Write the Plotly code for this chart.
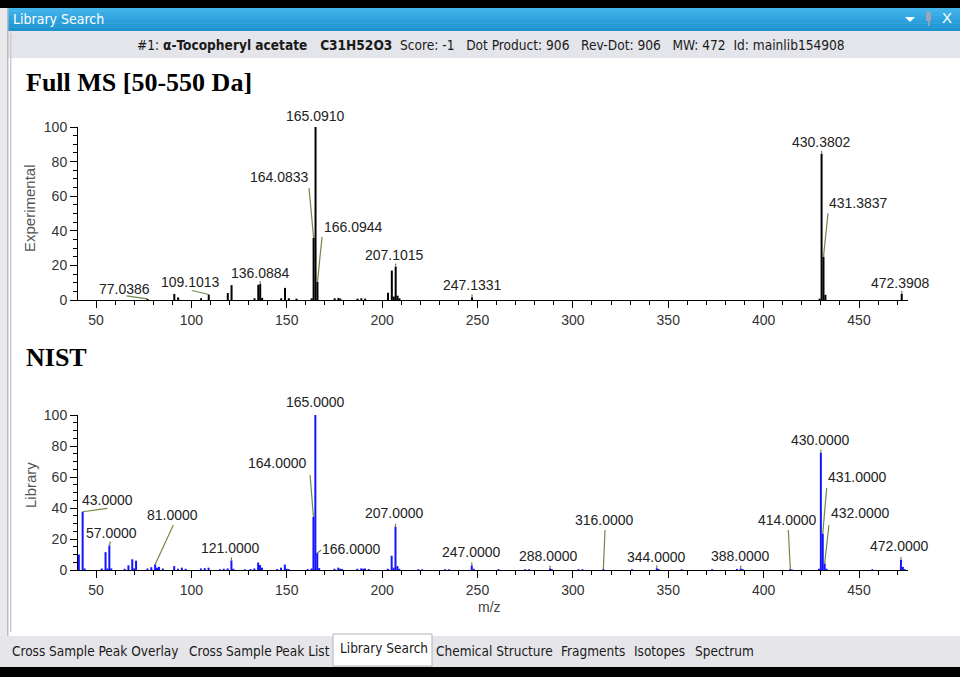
import plotly.graph_objects as go

W, H = 960, 677

# ---- Experimental spectrum (Full MS) ----
exp_mz = [77.0386, 91.05, 93.07, 105.07, 109.1013, 119.09, 121.0651, 133.10,
          135.08, 136.0884, 137.10, 147.10, 149.10, 151.10, 155.10, 163.08,
          164.0833, 165.0910, 166.0944, 175.10, 177.10, 178.10, 187.10, 189.10,
          191.10, 203.10, 205.09, 206.10, 207.1015, 208.10, 209.10, 247.1331,
          429.37, 430.3802, 431.3837, 432.39, 472.3908]
exp_int = [0.6, 3.5, 1.5, 1.0, 3.2, 4.0, 8.6, 1.0,
           8.8, 9.2, 1.2, 1.0, 7.0, 1.0, 0.8, 1.0,
           36.0, 100.0, 10.5, 1.0, 1.2, 0.8, 0.8, 1.0,
           0.8, 4.2, 17.0, 2.0, 19.3, 2.5, 1.0, 1.6,
           0.8, 84.5, 25.0, 3.0, 3.6]
exp_labels = [77.0386, 109.1013, 136.0884, 164.0833, 165.0910, 166.0944,
              207.1015, 247.1331, 430.3802, 431.3837, 472.3908]

# ---- NIST library spectrum ----
lib_mz = [41, 43, 44, 53, 55, 56, 57, 58, 65, 67, 69, 70, 71, 77, 79, 81, 82,
          83, 85, 91, 93, 95, 97, 105, 107, 109, 115, 117, 119, 121, 122, 128,
          131, 133, 135, 136, 137, 145, 147, 149, 150, 151, 161, 163, 164, 165,
          166, 167, 175, 177, 178, 179, 187, 189, 190, 191, 193, 203, 205, 206,
          207, 208, 209, 219, 221, 233, 235, 247, 248, 261, 275, 277, 288, 289,
          303, 305, 316, 331, 344, 345, 357, 373, 386, 388, 389, 414, 415, 429,
          430, 431, 432, 433, 457, 472, 473, 474]
lib_int = [10.0, 37.6, 1.0, 1.0, 11.5, 1.0, 15.8, 1.0, 0.8, 3.0, 6.9, 1.0, 6.0,
           1.0, 1.8, 3.6, 1.5, 2.0, 1.0, 2.5, 0.8, 1.5, 0.8, 1.0, 1.2, 1.5, 0.5,
           0.8, 1.0, 6.2, 0.8, 0.5, 0.6, 1.0, 4.8, 3.2, 1.5, 0.6, 1.5, 3.5, 0.8,
           0.6, 0.6, 1.0, 34.2, 100.0, 11.0, 1.2, 0.8, 1.5, 0.8, 0.6, 0.8, 1.0,
           0.8, 1.0, 0.6, 0.8, 9.2, 1.5, 28.0, 2.5, 0.8, 0.5, 0.5, 0.5, 0.5, 3.0,
           0.8, 0.5, 0.5, 0.5, 1.0, 0.5, 0.5, 0.5, 0.6, 0.5, 1.2, 0.6, 0.5, 0.5,
           0.6, 1.0, 0.6, 0.6, 0.3, 0.8, 75.7, 23.5, 4.2, 0.8, 0.5, 6.5, 2.0, 0.5]
lib_labels = [43.0, 57.0, 81.0, 121.0, 164.0, 165.0, 166.0, 207.0, 247.0,
              288.0, 316.0, 344.0, 388.0, 414.0, 430.0, 431.0, 432.0, 472.0]

x_ticks = [50, 100, 150, 200, 250, 300, 350, 400, 450]
y_ticks = [0, 20, 40, 60, 80, 100]

# label placement: (text offset px, leader-line end offset px), y down positive
EXP_LABEL_POS = {
    77.0386: ((-23, -10), (-21, -3)),
    109.1013: ((-18, -12.5), (-17, -4)),
    136.0884: ((0, -11), (0, -3)),
    164.0833: ((-34, -61), (-4.6, -49.6)),
    165.0910: ((0, -11), (0, -3)),
    166.0944: ((36, -55), (4.6, -45)),
    207.1015: ((-1, -11.6), (0, -3)),
    247.1331: ((0, -12), (0, -3)),
    430.3802: ((0, -12), (0, -3)),
    431.3837: ((35.5, -53.4), (4.5, -43.4)),
    472.3908: ((-1.6, -11), (0, -3)),
}
LIB_LABEL_POS = {
    43.0: ((25, -11.7), (24.7, -3.4)),
    57.0: ((2.3, -12.8), (1, -4)),
    81.0: ((17.4, -49.4), (18.2, -39.4)),
    121.0: ((-0.6, -12), (0, -3)),
    164.0: ((-36, -53.7), (-3.4, -42)),
    165.0: ((0, -13.3), (0, -3)),
    166.0: ((34, -3.7), (4, -3)),
    207.0: ((-1, -13.3), (0, -3)),
    247.0: ((0, -13.7), (0, -3)),
    288.0: ((-1, -12), (0, -3)),
    316.0: ((1.6, -49), (1.6, -39)),
    344.0: ((-0.6, -11.4), (0, -3)),
    388.0: ((0, -12), (0, -3)),
    414.0: ((-2.5, -49), (-2, -39)),
    430.0: ((0, -12.7), (0, -3)),
    431.0: ((35, -57), (3.9, -45.6)),
    432.0: ((35.8, -50.2), (4.3, -38.5)),
    472.0: ((-1, -14.3), (0, -3)),
}

SANS = "Liberation Sans, Arial, sans-serif"
NARROW = "Liberation Sans Narrow, DejaVu Sans Condensed, Roboto, sans-serif"
SERIF = "Liberation Serif, Times New Roman, serif"
LEADER = "#6f8a46"


def fx(px):
    return px / W


def fy(py):
    return 1 - py / H


def sticks(mz, inten):
    xs, ys = [], []
    for m, i in zip(mz, inten):
        xs += [m, m, None]
        ys += [0, i, None]
    return xs, ys


fig = go.Figure()
ex, ey = sticks(exp_mz, exp_int)
fig.add_trace(go.Scatter(x=ex, y=ey, mode="lines", line=dict(color="#000000", width=2),
                         xaxis="x", yaxis="y", hoverinfo="skip", showlegend=False))
lx, ly = sticks(lib_mz, lib_int)
fig.add_trace(go.Scatter(x=lx, y=ly, mode="lines", line=dict(color="#1414ff", width=2),
                         xaxis="x2", yaxis="y2", hoverinfo="skip", showlegend=False))

annotations = []
shapes = []


def add_labels(mz, inten, labels, pos, xr, yr):
    lookup = dict(zip(mz, inten))
    for m in labels:
        h = lookup[m]
        (tdx, tdy), (ldx, ldy) = pos[m]
        annotations.append(dict(x=m, y=h, xref=xr, yref=yr, text=f"{m:.4f}",
                                showarrow=False, xshift=tdx, yshift=-tdy,
                                xanchor="center", yanchor="middle",
                                font=dict(family=SANS, size=14, color="#222222")))
        shapes.append(dict(type="line", xref=xr, yref=yr, xsizemode="pixel",
                           ysizemode="pixel", xanchor=m, yanchor=h,
                           x0=0, y0=0, x1=ldx, y1=-ldy,
                           line=dict(color=LEADER, width=1.2)))


add_labels(exp_mz, exp_int, exp_labels, EXP_LABEL_POS, "x", "y")
add_labels(lib_mz, lib_int, lib_labels, LIB_LABEL_POS, "x2", "y2")


def rect(x0, y0, x1, y1, color, line=None, layer="below"):
    shapes.append(dict(type="rect", xref="paper", yref="paper",
                       x0=fx(x0), x1=fx(x1), y0=fy(y1), y1=fy(y0),
                       fillcolor=color, line=line or dict(width=0), layer=layer))


def text(x, y, s, size, color, family=NARROW, xanchor="left", angle=0, bold=False):
    annotations.append(dict(x=fx(x), y=fy(y), xref="paper", yref="paper",
                            text=f"<b>{s}</b>" if bold else s, showarrow=False,
                            xanchor=xanchor, yanchor="middle", textangle=angle,
                            font=dict(family=family, size=size, color=color)))


# window chrome
rect(0, 0, W, 8, "#000000")
blues = ["#43b4ea", "#3badE6", "#33a6e1", "#2c9fdc", "#2598d6", "#1f92d0"]
band = (31 - 8) / len(blues)
for k, c in enumerate(blues):
    rect(0, 8 + k * band, W, 8 + (k + 1) * band + 0.5, c)
rect(0, 31, W, 58, "#e4e5ea")
rect(0, 8, 8, 668, "#e9e9eb")
rect(7, 8, 8.5, 668, "#b8bcc4")
rect(10, 33, 11.5, 632, "#c9ccd2")
rect(0, 636, W, 668, "#e6e6ea")
rect(333, 634, 432, 666, "#ffffff", line=dict(color="#b0b3ba", width=1))
rect(0, 667, W, H, "#000000")

text(11, 19, "Library Search", 14, "#ffffff")
shapes.append(dict(type="path", xref="paper", yref="paper",
                   path=f"M {fx(905)},{fy(17)} L {fx(915)},{fy(17)} L {fx(910)},{fy(22)} Z",
                   fillcolor="#ffffff", line=dict(width=0)))
rect(926, 12, 931, 21, "#9aa7b4")
rect(928, 21, 929.5, 26, "#9aa7b4")
text(947, 18, "X", 15, "#ffffff", family=SANS, xanchor="center")

hdr = ("#1: <b>\u03b1-Tocopheryl acetate\u00a0\u00a0\u00a0C31H52O3</b>\u00a0\u00a0Score: -1"
       "\u00a0\u00a0\u00a0Dot Product: 906\u00a0\u00a0\u00a0Rev-Dot: 906\u00a0\u00a0\u00a0MW: 472"
       "\u00a0\u00a0Id: mainlib154908")
text(491, 45, hdr, 13.6, "#1a1a1a", xanchor="center")

# tabs
tabs = [(10, "Cross Sample Peak Overlay"), (187, "Cross Sample Peak List"),
        (338, "Library Search"), (434, "Chemical Structure"), (559, "Fragments"),
        (632, "Isotopes"), (693, "Spectrum")]
for tx, t in tabs:
    text(tx, 648 if t == "Library Search" else 651, t, 13.5, "#1a1a1a")

# panel headings and axis titles
text(24, 82, "Full MS [50-550 Da]", 26, "#000000", family=SERIF, bold=True)
text(24, 357, "NIST", 26, "#000000", family=SERIF, bold=True)
text(30, 208, "Experimental", 15, "#555555", family=SANS, xanchor="center", angle=-90)
text(30, 485, "Library", 15, "#555555", family=SANS, xanchor="center", angle=-90)
text(490, 607, "m/z", 14, "#444444", family=SANS, xanchor="center")

PX_PER_UNIT = (859 - 96) / 400.0
x_lo = 50 + (78 - 96) / PX_PER_UNIT
x_hi = 50 + (908 - 96) / PX_PER_UNIT

xcommon = dict(range=[x_lo, x_hi], tickvals=x_ticks, showline=True, linecolor="#000000",
               linewidth=1, ticks="outside", ticklen=7, tickcolor="#000000", tickwidth=1,
               minor=dict(ticks="outside", dtick=10, ticklen=4, tickcolor="#000000"),
               showgrid=False, zeroline=False, fixedrange=True, automargin=False,
               tickfont=dict(family=SANS, size=14, color="#333333"))
ycommon = dict(range=[0, 100], tickvals=y_ticks, showline=True, linecolor="#000000",
               linewidth=1, ticks="outside", ticklen=7, tickcolor="#000000", tickwidth=1,
               minor=dict(ticks="outside", dtick=5, ticklen=4, tickcolor="#000000"),
               showgrid=False, zeroline=False, fixedrange=True, automargin=False,
               tickfont=dict(family=SANS, size=14, color="#333333"))

fig.update_layout(
    width=W, height=H, autosize=False,
    margin=dict(l=0, r=0, t=0, b=0, pad=0, autoexpand=False),
    paper_bgcolor="#ffffff", plot_bgcolor="rgba(0,0,0,0)",
    showlegend=False,
    xaxis=dict(domain=[fx(78), fx(908)], anchor="y", **xcommon),
    yaxis=dict(domain=[fy(300), fy(127)], anchor="x", **ycommon),
    xaxis2=dict(domain=[fx(78), fx(908)], anchor="y2", **xcommon),
    yaxis2=dict(domain=[fy(570), fy(415)], anchor="x2", **ycommon),
    annotations=annotations,
    shapes=shapes,
)

fig.write_html("out.html", config={"displayModeBar": False})
